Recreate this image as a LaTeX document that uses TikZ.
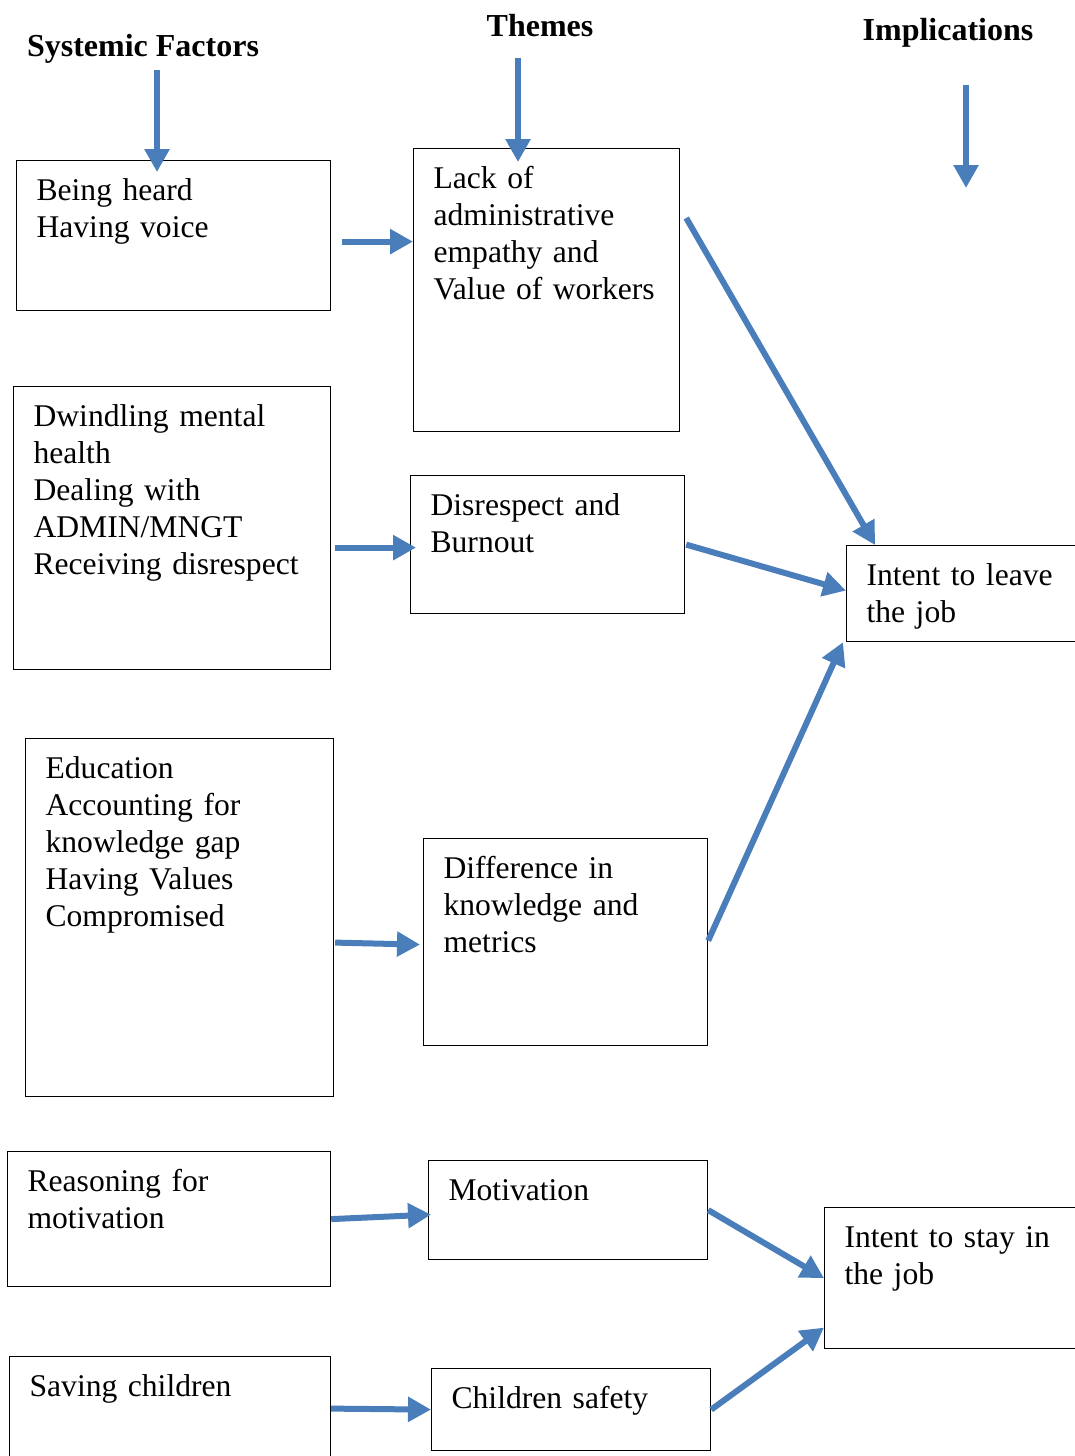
\documentclass[tikz,border=0pt]{standalone}
\usepackage{fontspec}
\setmainfont{Liberation Serif}
\usetikzlibrary{arrows.meta}
\definecolor{arrowblue}{RGB}{74,126,187}

\begin{document}
\begin{tikzpicture}[x=0.5pt,y=-0.5pt,
	heading/.style={font=\fontsize{16}{18.5}\selectfont\bfseries, anchor=base},
	box/.style={draw, anchor=north west, align=left, line width=0.6pt,
		font=\fontsize{15.8}{18.5}\selectfont,
		inner xsep=10pt, inner ysep=7.75pt, text height=12pt},
	flow/.style={draw=arrowblue, line width=3pt,
		-{Triangle[length=11.5pt,width=12pt]}}]
	\useasboundingbox (0,0) rectangle (1075,1456);
	\clip (0,0) rectangle (1075,1456);
	
	% column headings
	\node[heading] (sf) at (143,56) {Systemic Factors};
	\node[heading] (th) at (540,36) {Themes};
	\node[heading] (im) at (948,40) {Implications};
	
	% systemic factors
	\node[box, text width=137pt, text depth=47.5pt] (A1) at (16,160)
		{Being heard\\Having voice};
	\node[box, text width=138.5pt, text depth=114pt] (A2) at (13,386)
		{Dwindling mental\\health\\Dealing with\\ADMIN/MNGT\\Receiving disrespect};
	\node[box, text width=134pt, text depth=151.5pt] (A3) at (25,738)
		{Education\\Accounting for\\knowledge gap\\Having Values\\Compromised};
	\node[box, text width=141.5pt, text depth=40pt] (A4) at (7,1151)
		{Reasoning for\\motivation};
	\node[box, text width=140.5pt, text depth=32.5pt] (A5) at (9,1356)
		{Saving children};
	
	% themes
	\node[box, text width=113pt, text depth=114pt] (B1) at (413,148)
		{Lack of\\administrative\\empathy and\\Value of workers};
	\node[box, text width=117pt, text depth=41.5pt] (B2) at (410,475)
		{Disrespect and\\Burnout};
	\node[box, text width=122pt, text depth=76pt] (B3) at (423,838)
		{Difference in\\knowledge and\\metrics};
	\node[box, text width=119.5pt, text depth=22pt] (B4) at (428,1160)
		{Motivation};
	\node[box, text width=119.5pt, text depth=13.5pt] (B5) at (431,1368)
		{Children safety};
	
	% implications
	\node[box, text width=100pt, text depth=20.5pt] (C1) at (846,545)
		{Intent to leave\\the job};
	\node[box, text width=111pt, text depth=43pt] (C2) at (824,1207)
		{Intent to stay in\\the job};
	
	% arrows under the headings
	\coordinate (sfdown) at (157,172);
	\coordinate (thdown) at (518,162);
	\coordinate (imdown) at (966,188);
	\draw[flow] (sf.south -| sfdown) -- (sfdown);
	\draw[flow, shorten <=7.5pt] (th.south -| thdown) -- (thdown);
	\draw[flow, shorten <=15.5pt] (im.south -| imdown) -- (imdown);
	
	% factors to themes
	\draw[flow] ([xshift=5.5pt,yshift=-3pt]A1.east) -- ([yshift=24.25pt]B1.west);
	\draw[flow] ([xshift=2pt,yshift=-9.75pt]A2.east) -- ([xshift=3pt,yshift=-1.5pt]B2.west);
	\draw[flow] ([xshift=0.5pt,yshift=-12.5pt]A3.east) -- ([xshift=-1.5pt,yshift=-1.25pt]B3.west);
	\draw[flow] (A4.east) -- ([xshift=1.5pt,yshift=-2.25pt]B4.west);
	\draw[flow] ([yshift=4pt]A5.east) -- (B5.west);
	
	% themes to implications
	\draw[flow] ([xshift=3pt,yshift=-35pt]B1.north east) -- ([xshift=14.5pt]C1.north west);
	\draw[flow] ([xshift=0.5pt]B2.east) -- ([yshift=1.5pt]C1.west);
	\draw[flow] ([yshift=0.75pt]B3.east) -- ([xshift=-1.5pt]C1.south west);
	\draw[flow] (B4.east) -- (C2.west);
	\draw[flow] (B5.east) -- ([yshift=-24.75pt]C2.west);
	
\end{tikzpicture}
\end{document}
